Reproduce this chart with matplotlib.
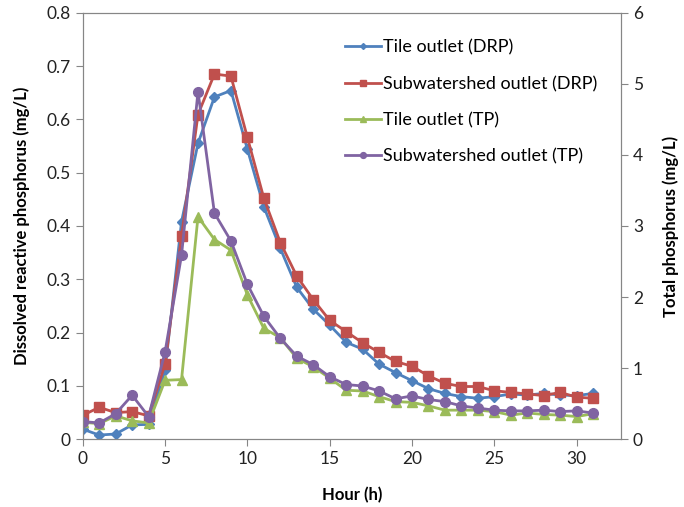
import numpy as np
from matplotlib import pyplot as plt

hours = list(range(0, 32))

# DRP (left axis, mg/L)
tile_drp = [0.019, 0.008, 0.010, 0.027, 0.028, 0.13, 0.408, 0.555, 0.642, 0.654,
            0.544, 0.436, 0.358, 0.285, 0.244, 0.214, 0.182, 0.169, 0.141, 0.125,
            0.110, 0.095, 0.086, 0.080, 0.077, 0.080, 0.085, 0.083, 0.086, 0.083,
            0.082, 0.086]
sub_drp = [0.045, 0.060, 0.050, 0.052, 0.044, 0.141, 0.381, 0.609, 0.685, 0.681,
           0.566, 0.452, 0.369, 0.306, 0.262, 0.223, 0.202, 0.181, 0.163, 0.146,
           0.137, 0.119, 0.105, 0.099, 0.099, 0.091, 0.088, 0.085, 0.082, 0.088,
           0.079, 0.077]

# TP (right axis, mg/L)
tile_tp = [0.24, 0.22, 0.33, 0.26, 0.23, 0.83, 0.84, 3.13, 2.81, 2.66,
           2.03, 1.56, 1.43, 1.14, 1.02, 0.86, 0.69, 0.68, 0.60, 0.53,
           0.52, 0.47, 0.41, 0.41, 0.41, 0.39, 0.34, 0.37, 0.35, 0.34,
           0.32, 0.36]
sub_tp = [0.25, 0.23, 0.36, 0.62, 0.32, 1.23, 2.59, 4.89, 3.18, 2.79,
          2.18, 1.73, 1.42, 1.17, 1.05, 0.88, 0.77, 0.75, 0.68, 0.57,
          0.61, 0.56, 0.53, 0.47, 0.44, 0.41, 0.40, 0.40, 0.41, 0.39,
          0.40, 0.37]

plt.rcParams['font.family'] = ['Lato', 'DejaVu Sans']

fig = plt.figure(figsize=(6.84, 5.07), dpi=100)
ax = fig.add_axes([0.121, 0.1335, 0.787, 0.8415])
ax2 = ax.twinx()

l1, = ax.plot(hours, tile_drp, '-D', color='#4F81BD', lw=2, ms=5, label='Tile outlet (DRP)')
l2, = ax.plot(hours, sub_drp, '-s', color='#C0504D', lw=2, ms=6.5, label='Subwatershed outlet (DRP)')
l3, = ax2.plot(hours, tile_tp, '-^', color='#9BBB59', lw=2, ms=7, label='Tile outlet (TP)')
l4, = ax2.plot(hours, sub_tp, '-o', color='#8064A2', lw=2, ms=7, label='Subwatershed outlet (TP)')

ax.set_xlim(0, 32.7)
ax.set_xticks(range(0, 31, 5))
ax.set_ylim(0, 0.8)
ax.set_yticks(np.arange(0, 0.81, 0.1))
ax.set_yticklabels(['0'] + ['%.1f' % v for v in np.arange(0.1, 0.81, 0.1)])
ax2.set_ylim(0, 6)
ax2.set_yticks(range(0, 7))

for a in (ax, ax2):
    for s in a.spines.values():
        s.set_color('#868686')
    a.tick_params(colors='#868686', labelcolor='#222222', labelsize=12.5, length=5, direction='out')

ax.set_xlabel('Hour (h)', fontsize=12, fontweight='bold', labelpad=14)
ax.set_ylabel('Dissolved reactive phosphorus (mg/L)', fontsize=12, fontweight='bold', labelpad=12)
ax2.set_ylabel('Total phosphorus (mg/L)', fontsize=12, fontweight='bold', labelpad=14)

leg = ax.legend(handles=[l1, l2, l3, l4], loc='upper left', bbox_to_anchor=(0.457, 0.975),
                frameon=False, fontsize=13, handlelength=2.0, labelspacing=1.12,
                handletextpad=0.1, markerscale=0.6)

plt.savefig('out.png', dpi=100)
